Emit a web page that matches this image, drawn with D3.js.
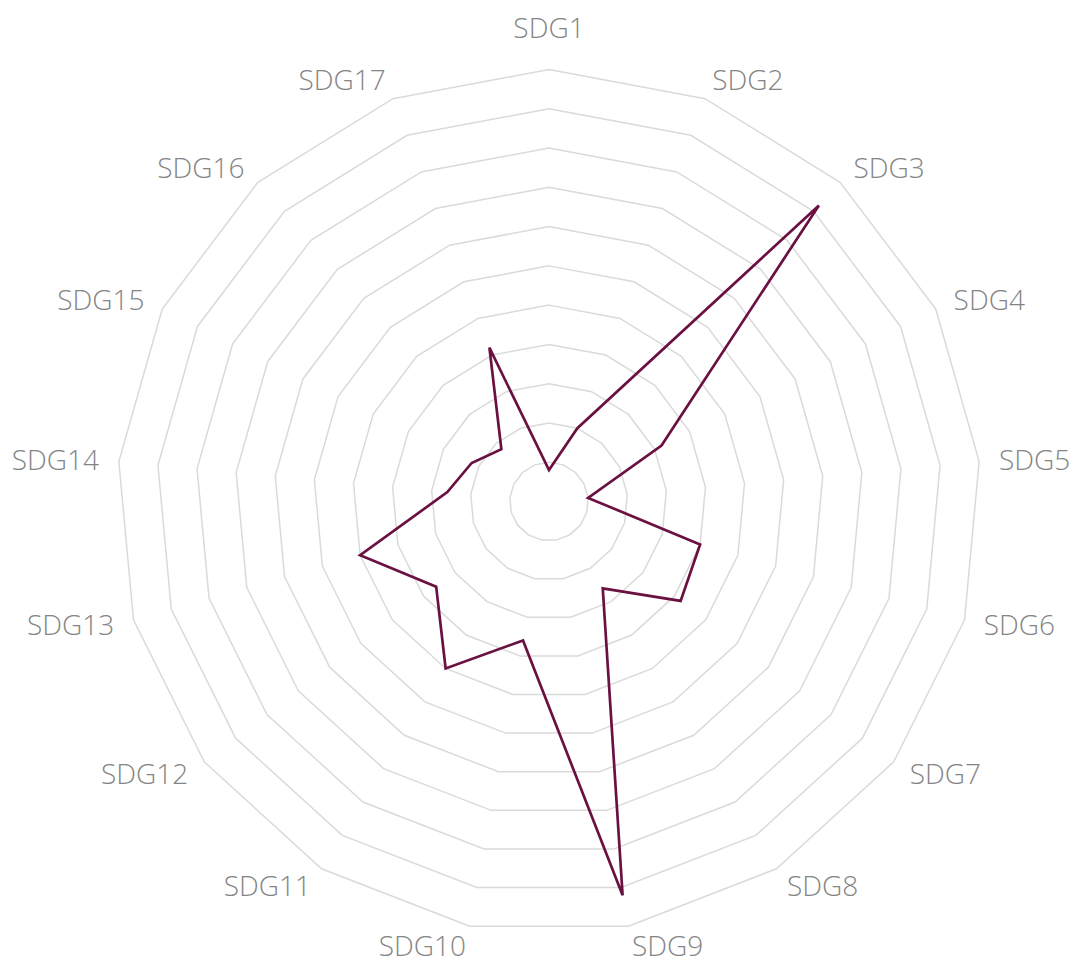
<!DOCTYPE html>
<html>
<head>
<meta charset="utf-8">
<script src="https://cdn.jsdelivr.net/npm/d3@7"></script>
<style>
  html, body { margin: 0; padding: 0; background: #fff; }
  svg { display: block; }
</style>
</head>
<body>
<div id="chart"></div>
<script>
// axes of the radar
var categories = ["SDG1", "SDG2", "SDG3", "SDG4", "SDG5", "SDG6", "SDG7", "SDG8", "SDG9",
                  "SDG10", "SDG11", "SDG12", "SDG13", "SDG14", "SDG15", "SDG16", "SDG17"];
// values (one unit = one grid ring)
var values = [0.8, 2.0, 10.2, 3.2, 1.0, 4.0, 4.2, 2.6, 10.2, 3.6, 5.0, 3.6, 5.0, 2.6, 2.2, 1.8, 4.2];
// grid rings
var levels = [1, 2, 3, 4, 5, 6, 7, 8, 9, 10, 11];
var maxValue = 11;

var width = 1081, height = 958;
var cx = 549, cy = 501.5, radius = 432;

var svg = d3.select("#chart")
  .append("svg")
    .attr("width", width)
    .attr("height", height);

var g = svg.append("g")
    .attr("transform", "translate(" + cx + "," + cy + ")");

var r = d3.scaleLinear().domain([0, maxValue]).range([0, radius]);
var angle = d3.scalePoint().domain(categories.concat(["__end"])).range([0, 2 * Math.PI]);

var lineRadial = d3.lineRadial()
    .angle(function(d) { return angle(d.cat); })
    .radius(function(d) { return r(d.v); })
    .curve(d3.curveLinearClosed);

// grid polygons
g.selectAll(".ring")
  .data(levels)
  .enter()
  .append("path")
    .attr("class", "ring")
    .attr("fill", "none")
    .attr("stroke", "#dadada")
    .attr("stroke-width", 1.5)
    .attr("d", function(lv) {
      return lineRadial(categories.map(function(c) { return {cat: c, v: lv}; }));
    });

// data line
var pts = categories.map(function(c, i) { return {cat: c, v: values[i]}; });
g.append("path")
    .attr("fill", "none")
    .attr("stroke", "#6a1141")
    .attr("stroke-width", 2.7)
    .attr("stroke-linejoin", "miter")
    .attr("d", lineRadial(pts));

// axis names
var labelR = radius + 20;
g.selectAll(".lbl")
  .data(categories)
  .enter()
  .append("text")
    .attr("class", "lbl")
    .attr("font-family", "'Open Sans', 'Segoe UI', sans-serif")
    .attr("font-weight", 300)
    .attr("font-size", 28)
    .attr("fill", "#858585")
    .each(function(c) {
      var a = angle(c);
      var x = labelR * Math.sin(a), y = -labelR * Math.cos(a);
      var t = d3.select(this).text(c);
      if (Math.abs(Math.sin(a)) < 1e-4) {
        t.attr("x", x).attr("y", y - 12).attr("text-anchor", "middle");
      } else {
        t.attr("x", x).attr("y", y).attr("dy", "0.36em")
         .attr("text-anchor", Math.sin(a) > 0 ? "start" : "end");
      }
    });
</script>
</body>
</html>
